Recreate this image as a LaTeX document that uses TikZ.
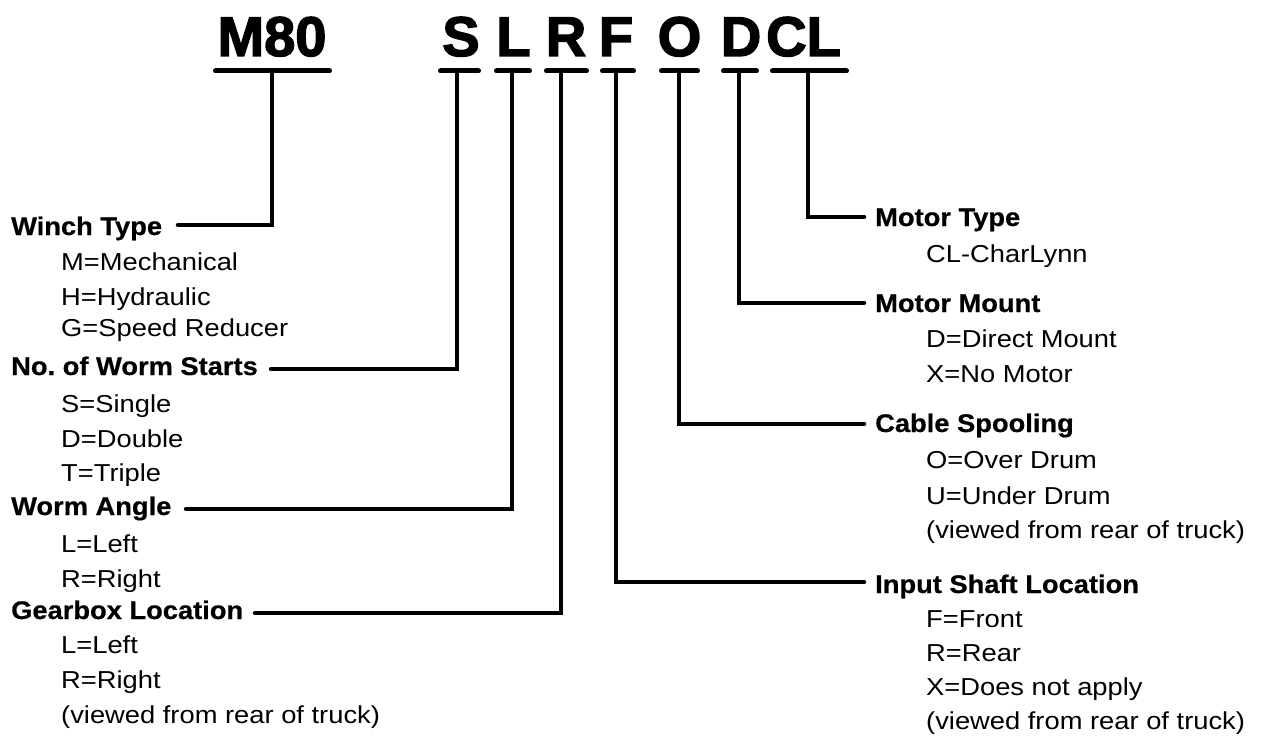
\documentclass[tikz,border=0pt]{standalone}
\usepackage{fontspec}
\setmainfont{Liberation Sans}
\newfontfamily\regf{Liberation Sans}[FakeStretch=1.115]
\newfontfamily\boldf{Liberation Sans Bold}[FakeStretch=1.07,FakeBold=0.6]
\newfontfamily\bigfont{Liberation Sans Bold}[FakeBold=2.5]
\frenchspacing
\begin{document}
\begin{tikzpicture}[x=1pt,y=-1pt,
  lab/.style={anchor=base west, inner sep=0pt, font=\boldf\fontsize{25.5}{28}\selectfont},
  item/.style={anchor=base west, inner sep=0pt, font=\regf\fontsize{24.5}{28}\selectfont},
  big/.style={anchor=base, inner sep=0pt, font=\bigfont\fontsize{56}{60}\selectfont},
  ul/.style={line width=5pt, line cap=round},
  conn/.style={line width=4.5pt, line cap=round, line join=miter}]
\useasboundingbox (0,0) rectangle (1265,738);

% code letters
\node[big] (tM) at (272,56) {M80};
\node[big] (tS) at (461,56) {S};
\node[big] (tL) at (513.5,56) {L};
\node[big] (tR) at (566,56) {R};
\node[big] (tF) at (616,56) {F};
\node[big] (tO) at (679.5,56) {O};
\node[big] (tD) at (741,56) {D};
\node[big] (tC) at (803.5,56) {CL};

% underlines
\draw[ul] (215.5,71) -- (329.5,71);
\draw[ul] (440.5,71) -- (478.5,71);
\draw[ul] (496.5,71) -- (529.5,71);
\draw[ul] (546.5,71) -- (586.5,71);
\draw[ul] (602.5,71) -- (633.5,71);
\draw[ul] (661.5,71) -- (697.5,71);
\draw[ul] (723.5,71) -- (756.5,71);
\draw[ul] (772.5,71) -- (846.5,71);

% junctions on the underlines
\coordinate (jM) at (272,71);
\coordinate (jS) at (457,71);
\coordinate (jL) at (512,71);
\coordinate (jR) at (561,71);
\coordinate (jF) at (616,71);
\coordinate (jO) at (679,71);
\coordinate (jD) at (739,71);
\coordinate (jC) at (808,71);

% left labels
\node[lab] (wt) at (11,235) {Winch Type};
\node[item] (wt1) at (61,270) {M=Mechanical};
\node[item] (wt2) at (61,305) {H=Hydraulic};
\node[item] (wt3) at (61,336) {G=Speed Reducer};

\node[lab] (ws) at (11,375) {No.\ of Worm Starts};
\node[item] (ws1) at (61,412) {S=Single};
\node[item] (ws2) at (61,447) {D=Double};
\node[item] (ws3) at (61,481) {T=Triple};

\node[lab] (wa) at (11,515) {Worm Angle};
\node[item] (wa1) at (61,552) {L=Left};
\node[item] (wa2) at (61,587) {R=Right};

\node[lab] (gl) at (11,619) {Gearbox Location};
\node[item] (gl1) at (61,653) {L=Left};
\node[item] (gl2) at (61,688) {R=Right};
\node[item] (gl3) at (61,723) {(viewed from rear of truck)};

% right labels
\node[lab] (mt) at (875,226) {Motor Type};
\node[item] (mt1) at (926,262) {CL-CharLynn};

\node[lab] (mm) at (875,312) {Motor Mount};
\node[item] (mm1) at (926,347) {D=Direct Mount};
\node[item] (mm2) at (926,382) {X=No Motor};

\node[lab] (cs) at (875,432) {Cable Spooling};
\node[item] (cs1) at (926,468) {O=Over Drum};
\node[item] (cs2) at (926,504) {U=Under Drum};
\node[item] (cs3) at (926,538) {(viewed from rear of truck)};

\node[lab] (is) at (875,593) {Input Shaft Location};
\node[item] (is1) at (926,627) {F=Front};
\node[item] (is2) at (926,661) {R=Rear};
\node[item] (is3) at (926,695) {X=Does not apply};
\node[item] (is4) at (926,729) {(viewed from rear of truck)};

% connector ends near labels
\coordinate (eWT) at (178,225);
\coordinate (eWS) at (271,369);
\coordinate (eWA) at (186,509);
\coordinate (eGL) at (255,613);
\coordinate (eMT) at (864,217);
\coordinate (eMM) at (864,303);
\coordinate (eCS) at (864,424);
\coordinate (eIS) at (864,582);

% connectors
\draw[conn] (jM) |- (eWT);
\draw[conn] (jS) |- (eWS);
\draw[conn] (jL) |- (eWA);
\draw[conn] (jR) |- (eGL);
\draw[conn] (jF) |- (eIS);
\draw[conn] (jO) |- (eCS);
\draw[conn] (jD) |- (eMM);
\draw[conn] (jC) |- (eMT);
\end{tikzpicture}
\end{document}
